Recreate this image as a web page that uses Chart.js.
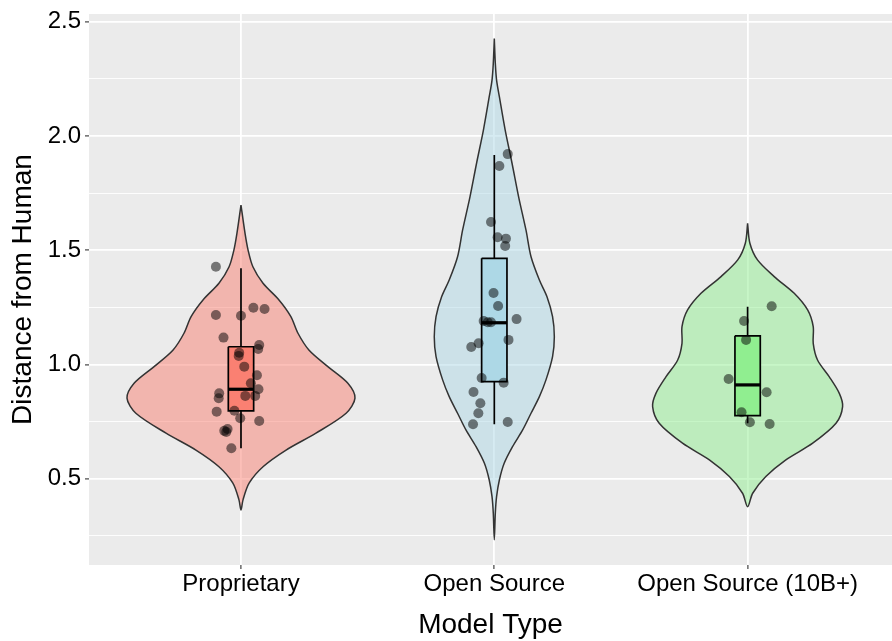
<!DOCTYPE html>
<html>
<head>
<meta charset="utf-8">
<script src="https://cdn.jsdelivr.net/npm/chart.js@4.4.1/dist/chart.umd.min.js"></script>
<style>
  body { margin: 0; background: #fff; }
</style>
</head>
<body>
<canvas id="violin" width="892" height="641"></canvas>
<script>
const categories = ['Proprietary', 'Open Source', 'Open Source (10B+)'];
const yTicks = [0.5, 1.0, 1.5, 2.0, 2.5];
const yTickLabels = ['0.5', '1.0', '1.5', '2.0', '2.5'];
const yMinor = [0.25, 0.75, 1.25, 1.75, 2.25];

// violin outlines, top to bottom: value and half width (in category units)
const propViolinY = [1.698, 1.574, 1.501, 1.428, 1.356, 1.283, 1.210, 1.137, 1.064, 0.991, 0.918, 0.853, 0.787, 0.700, 0.626, 0.553, 0.481, 0.408, 0.364];
const propViolinW = [0, .016, .028, .047, .087, .150, .197, .225, .268, .343, .422, .450, .415, .296, .178, .087, .032, .008, 0];
const openViolinY = [2.427, 2.318, 2.245, 2.172, 2.026, 1.881, 1.734, 1.589, 1.472, 1.370, 1.297, 1.210, 1.122, 1.035, 0.933, 0.860, 0.787, 0.714, 0.641, 0.568, 0.495, 0.422, 0.350, 0.233];
const openViolinW = [0, .004, .009, .020, .043, .070, .096, .125, .145, .178, .208, .230, .237, .230, .204, .178, .145, .112, .072, .039, .020, .009, .004, 0];
const bigViolinY = [1.618, 1.531, 1.458, 1.385, 1.312, 1.239, 1.166, 1.093, 1.020, 0.947, 0.874, 0.816, 0.743, 0.656, 0.583, 0.510, 0.437, 0.378];
const bigViolinW = [0, .009, .039, .105, .184, .237, .259, .259, .276, .322, .362, .375, .349, .257, .151, .072, .020, 0];

// box stats per category
const boxLow  = [0.634, 0.739, 0.743];
const boxQ1   = [0.797, 0.925, 0.777];
const boxMed  = [0.892, 1.183, 0.911];
const boxQ3   = [1.078, 1.465, 1.126];
const boxHigh = [1.421, 1.917, 1.253];

// jittered observations: offset from category centre, value
const propJitter = [-0.099, -0.099, 0.000, 0.049, 0.093, -0.069, 0.072, 0.068, -0.007, -0.009, 0.013, 0.063, 0.039, 0.069, 0.056, 0.017, -0.086, -0.088, -0.096, -0.026, -0.003, 0.072, -0.053, -0.066, -0.058, -0.038];
const propValues = [1.428, 1.217, 1.214, 1.249, 1.243, 1.118, 1.086, 1.068, 1.052, 1.038, 0.991, 0.953, 0.918, 0.892, 0.863, 0.863, 0.874, 0.853, 0.794, 0.798, 0.765, 0.753, 0.718, 0.710, 0.705, 0.634];
const openJitter = [0.053, 0.020, -0.013, 0.013, 0.046, 0.043, -0.003, 0.015, 0.088, -0.042, -0.026, -0.013, 0.056, -0.062, -0.091, -0.050, 0.037, -0.082, -0.055, -0.063, -0.084, 0.053];
const openValues = [1.921, 1.869, 1.624, 1.557, 1.551, 1.519, 1.313, 1.256, 1.199, 1.191, 1.185, 1.185, 1.108, 1.093, 1.077, 0.941, 0.921, 0.880, 0.831, 0.787, 0.739, 0.749];
const bigJitter = [0.095, -0.014, -0.006, -0.075, 0.075, -0.024, 0.009, 0.087];
const bigValues = [1.255, 1.191, 1.108, 0.937, 0.879, 0.791, 0.748, 0.740];

const violinFills = ['rgba(250,128,114,0.5)', 'rgba(173,216,230,0.5)', 'rgba(144,238,144,0.5)'];
const boxFills = ['#FA8072', '#ADD8E6', '#90EE90'];
const halfBox = 0.05;

const violins = [[propViolinY, propViolinW], [openViolinY, openViolinW], [bigViolinY, bigViolinW]];
const jitters = [[propJitter, propValues], [openJitter, openValues], [bigJitter, bigValues]];

function violinPath(c, ys, ws) {
  const right = ys.map((y, i) => ({x: c + ws[i], y: y}));
  const left = ys.map((y, i) => ({x: c - ws[i], y: y})).reverse();
  return right.concat(left.slice(1));
}

const datasets = [];
categories.forEach((name, i) => {
  const c = i + 1;
  datasets.push({
    type: 'line', order: 5,
    data: violinPath(c, violins[i][0], violins[i][1]),
    fill: 'shape', backgroundColor: violinFills[i],
    borderColor: '#333333', borderWidth: 1.5, tension: 0.3,
    pointRadius: 0, borderJoinStyle: 'round'
  });
  datasets.push({
    type: 'line', order: 4,
    data: [{x: c, y: boxHigh[i]}, {x: c, y: boxQ3[i]}, {x: c, y: null}, {x: c, y: boxQ1[i]}, {x: c, y: boxLow[i]}],
    borderColor: '#000', borderWidth: 1.7, pointRadius: 0, spanGaps: false, fill: false
  });
  datasets.push({
    type: 'line', order: 3,
    data: [{x: c - halfBox, y: boxQ3[i]}, {x: c + halfBox, y: boxQ3[i]}, {x: c + halfBox, y: boxQ1[i]},
           {x: c - halfBox, y: boxQ1[i]}, {x: c - halfBox, y: boxQ3[i]}],
    fill: 'shape', backgroundColor: boxFills[i],
    borderColor: '#000', borderWidth: 1.7, pointRadius: 0, tension: 0
  });
  datasets.push({
    type: 'line', order: 2,
    data: [{x: c - halfBox, y: boxMed[i]}, {x: c + halfBox, y: boxMed[i]}],
    borderColor: '#000', borderWidth: 3.2, pointRadius: 0, fill: false
  });
  datasets.push({
    type: 'scatter', order: 1,
    data: jitters[i][1].map((v, k) => ({x: c + jitters[i][0][k], y: v})),
    backgroundColor: 'rgba(0,0,0,0.5)', borderWidth: 0, pointRadius: 5
  });
});

const panelBg = {
  id: 'panelBg',
  beforeDraw(chart) {
    const {ctx, chartArea: a} = chart;
    ctx.save();
    ctx.fillStyle = '#FFFFFF';
    ctx.fillRect(0, 0, chart.width, chart.height);
    ctx.fillStyle = '#EBEBEB';
    ctx.fillRect(a.left, a.top, a.right - a.left, a.bottom - a.top);
    ctx.restore();
  }
};

const fontFamily = '"Liberation Sans", Arial, Helvetica, sans-serif';
const isMajor = v => yTicks.includes(v);
// axis boxes sized like the ggplot panel, without Chart.js label overhang padding
function noPad(s) { s.paddingTop = 0; s.paddingBottom = 0; s.paddingLeft = 0; s.paddingRight = 0; }

new Chart(document.getElementById('violin').getContext('2d'), {
  type: 'scatter',
  data: { datasets: datasets },
  plugins: [panelBg],
  options: {
    responsive: false,
    animation: false,
    layout: { autoPadding: false, padding: { top: 14, right: 0, bottom: 0, left: 0 } },
    plugins: { legend: { display: false }, tooltip: { enabled: false } },
    scales: {
      x: {
        type: 'linear', min: 0.4, max: 3.57,
        afterBuildTicks: s => { s.ticks = categories.map((n, i) => ({value: i + 1})); },
        afterFit: s => { s.height = 76; noPad(s); },
        ticks: {
          autoSkip: false, maxRotation: 0, padding: 1,
          callback: (v, i) => categories[i],
          color: '#000', font: { family: fontFamily, size: 24 }
        },
        grid: { color: '#FFFFFF', lineWidth: 1.8, tickColor: '#333333', tickLength: 4, tickWidth: 1.1 },
        border: { display: false },
        title: { display: true, text: 'Model Type', color: '#000', padding: { top: 0, bottom: -1 },
                 font: { family: fontFamily, size: 28 } }
      },
      y: {
        type: 'linear', min: 0.123, max: 2.534,
        afterBuildTicks: s => { s.ticks = yMinor.concat(yTicks).sort((a, b) => a - b).map(v => ({value: v})); },
        afterFit: s => { s.width = 89; noPad(s); },
        ticks: {
          autoSkip: false, padding: 4,
          callback: v => { const k = yTicks.indexOf(v); return k >= 0 ? yTickLabels[k] : ''; },
          color: '#000', font: { family: fontFamily, size: 24 }
        },
        grid: {
          color: '#FFFFFF',
          lineWidth: c => isMajor(c.tick.value) ? 1.8 : 0.9,
          tickColor: c => isMajor(c.tick.value) ? '#333333' : 'rgba(0,0,0,0)',
          tickLength: 4, tickWidth: 1.1
        },
        border: { display: false },
        title: { display: true, text: 'Distance from Human', color: '#000', padding: { top: 6.5, bottom: 0 },
                 font: { family: fontFamily, size: 28 } }
      }
    }
  }
});
</script>
</body>
</html>
